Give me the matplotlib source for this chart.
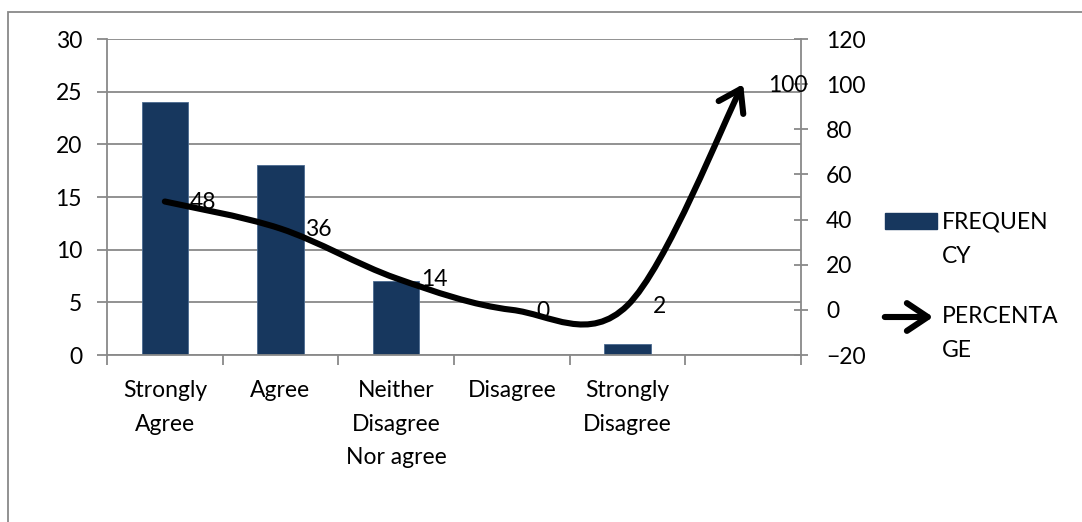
import matplotlib.pyplot as plt
import numpy as np
from matplotlib.path import Path
from matplotlib.patches import FancyArrowPatch, Rectangle

# survey responses
categories = ["Strongly\nAgree", "Agree", "Neither\nDisagree\nNor agree",
              "Disagree", "Strongly\nDisagree", ""]
frequency = [24, 18, 7, 0, 1]
percentage = [48, 36, 14, 0, 2, 100]

BAR = "#17375E"
GRID = "#898989"
FS = 16.5
LS = 1.75

plt.rcParams['font.family'] = ['Lato', 'DejaVu Sans']

W, H = 1082, 522
fig = plt.figure(figsize=(W / 100, H / 100), dpi=100)


def fx(px):
    return px / W


def fy(py):
    return 1 - py / H


# chart area border
fig.patches.append(Rectangle((fx(8), -0.1), 1.2, fy(12) + 0.1, transform=fig.transFigure,
                             fill=False, edgecolor=GRID, lw=1.3))

ax = fig.add_axes([fx(107), fy(355), fx(801) - fx(107), fy(39) - fy(355)])
x = np.arange(len(categories))
ax.bar(x[:len(frequency)], frequency, width=0.4, color=BAR, edgecolor="#4a6a90", lw=0.6, zorder=2)
ax.set_xlim(-0.5, len(categories) - 0.5)
ax.set_ylim(0, 30)
ax.set_yticks(range(0, 31, 5))
ax.yaxis.grid(True, color=GRID, lw=1.3, zorder=0)
ax.set_axisbelow(True)

# category ticks sit on the boundaries, labels in the middle
ax.set_xticks(np.arange(-0.5, len(categories), 1.0))
ax.set_xticklabels([])
ax.set_xticks(x, minor=True)
ax.set_xticklabels(categories, minor=True, fontsize=FS, linespacing=LS)
ax.tick_params(axis='x', which='minor', length=0, pad=18)
ax.tick_params(axis='x', which='major', length=7, color=GRID, width=1.3)
ax.tick_params(axis='y', length=7, color=GRID, width=1.3, labelsize=FS, pad=11)

for s in ["top", "right"]:
    ax.spines[s].set_visible(False)
for s in ["left", "bottom"]:
    ax.spines[s].set_color(GRID)
    ax.spines[s].set_linewidth(1.3)

ax2 = ax.twinx()
ax2.set_ylim(-20, 120)
ax2.set_yticks(range(-20, 121, 20))
ax2.tick_params(axis='y', direction='inout', length=10, color=GRID, width=1.3,
                labelsize=FS, pad=13)
for s in ["top", "left", "bottom"]:
    ax2.spines[s].set_visible(False)
ax2.spines["right"].set_color(GRID)
ax2.spines["right"].set_linewidth(1.3)

# smoothed percentage line (Catmull-Rom style bezier through the points)
pts = np.column_stack([x, percentage]).astype(float)
n = len(pts)
verts = [pts[0]]
codes = [Path.MOVETO]
for i in range(n - 1):
    p0 = pts[max(i - 1, 0)]
    p1 = pts[i]
    p2 = pts[i + 1]
    p3 = pts[min(i + 2, n - 1)]
    verts += [p1 + (p2 - p0) / 6, p2 - (p3 - p1) / 6, p2]
    codes += [Path.CURVE4] * 3
arrow = "->,head_length=0.75,head_width=0.5"
curve = FancyArrowPatch(path=Path(verts, codes), arrowstyle=arrow,
                        mutation_scale=20, lw=4.4, color="black", capstyle="round",
                        joinstyle="round", transform=ax2.transData, zorder=3)
ax2.add_patch(curve)

for xi, p in zip(x, percentage):
    ax2.annotate(str(p), (xi, p), xytext=(18, -1), textcoords="offset points",
                 ha="left", va="center", fontsize=FS, zorder=4)

# legend
fig.patches.append(Rectangle((fx(885), fy(229)), fx(937) - fx(885), fy(213) - fy(229),
                             transform=fig.transFigure, color=BAR))
fig.text(fx(942), fy(211), "FREQUEN\nCY", fontsize=FS, va="top", ha="left", linespacing=LS + 0.05)
fig.patches.append(FancyArrowPatch((fx(882), fy(317)), (fx(936), fy(317)),
                                   arrowstyle=arrow, mutation_scale=20, lw=4.4, color="black",
                                   capstyle="round", transform=fig.transFigure))
fig.text(fx(942), fy(306), "PERCENTA\nGE", fontsize=FS, va="top", ha="left", linespacing=LS)

fig.savefig("out.png", dpi=100)
